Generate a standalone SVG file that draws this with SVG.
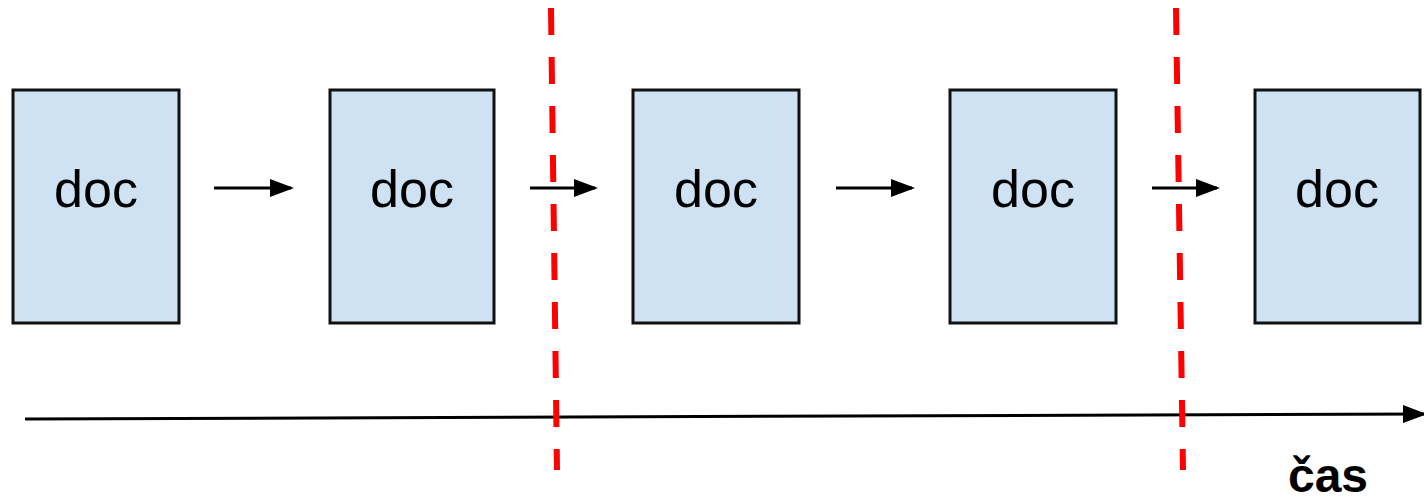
<svg xmlns="http://www.w3.org/2000/svg" width="1424" height="500" viewBox="0 0 1424 500">
<style>
.box{fill:#cfe2f3;stroke:#111;stroke-width:3}
.lbl{font-family:"Liberation Sans",Arial,sans-serif;font-size:52px;fill:#000;text-anchor:middle}
.conn{stroke:#000;stroke-width:3;fill:none}
.cut{stroke:#ff0000;stroke-width:6;stroke-dasharray:27 22;fill:none}
</style>
<defs>
<marker id="ah" markerWidth="8" markerHeight="6" refX="7" refY="3" orient="auto" markerUnits="strokeWidth">
<path d="M0,0 L8,3 L0,6 Z" fill="#000"/>
</marker>
</defs>
<rect width="1424" height="500" fill="#fff"/>
<g id="node1"><rect class="box" x="13" y="90" width="166" height="233"/><text class="lbl" x="96" y="207">doc</text></g>
<g id="node2"><rect class="box" x="330" y="90" width="164" height="233"/><text class="lbl" x="412" y="207">doc</text></g>
<g id="node3"><rect class="box" x="633" y="90" width="166" height="233"/><text class="lbl" x="716" y="207">doc</text></g>
<g id="node4"><rect class="box" x="950" y="90" width="166" height="233"/><text class="lbl" x="1033" y="207">doc</text></g>
<g id="node5"><rect class="box" x="1255" y="90" width="165" height="233"/><text class="lbl" x="1337" y="207">doc</text></g>
<g id="connectors">
<line class="conn" x1="214" y1="188" x2="291" y2="188" marker-end="url(#ah)"/>
<line class="conn" x1="530" y1="188" x2="595" y2="188" marker-end="url(#ah)"/>
<line class="conn" x1="836" y1="188" x2="912" y2="188" marker-end="url(#ah)"/>
<line class="conn" x1="1152" y1="188" x2="1217" y2="188" marker-end="url(#ah)"/>
<line class="conn" x1="25" y1="419" x2="1424" y2="414" marker-end="url(#ah)"/>
</g>
<g id="cuts">
<line class="cut" x1="551" y1="8" x2="557" y2="470"/>
<line class="cut" x1="1176" y1="8" x2="1183" y2="470"/>
</g>
<text x="1328" y="492" font-family="'Liberation Sans',Arial,sans-serif" font-size="48" font-weight="bold" text-anchor="middle">čas</text>
</svg>
